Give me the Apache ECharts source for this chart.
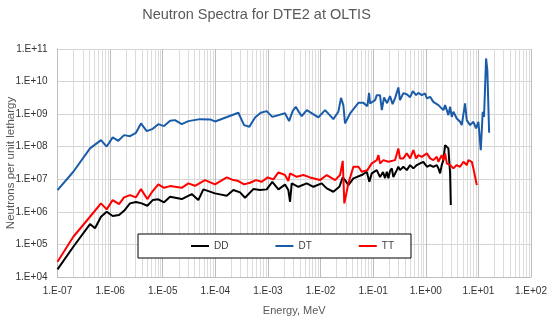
<!DOCTYPE html>
<html><head><meta charset="utf-8">
<script src="https://cdn.jsdelivr.net/npm/echarts@6/dist/echarts.min.js"></script>
<style>html,body{margin:0;padding:0;background:#fff}#c{width:550px;height:320px}</style>
</head><body><div id="c"></div>
<script>
// ---- data ----
const seriesNames = ['DD', 'DT', 'TT'];
const xTickLabels = ['1.E-07','1.E-06','1.E-05','1.E-04','1.E-03','1.E-02','1.E-01','1.E+00','1.E+01','1.E+02'];
const yTickLabels = ['1.E+04','1.E+05','1.E+06','1.E+07','1.E+08','1.E+09','1.E+10','1.E+11'];

const ddE = [1e-7, 2.0e-7, 4.15e-7, 5.16e-7, 6.71e-7, 8.61e-7, 1.12e-6, 1.48e-6, 1.84e-6, 2.39e-6, 3.10e-6, 3.99e-6, 5.09e-6, 6.46e-6, 8.24e-6, 1.06e-5, 1.38e-5, 2.30e-5, 3.56e-5, 4.75e-5, 5.92e-5, 9.86e-5, 1.65e-4, 2.20e-4, 2.95e-4, 3.67e-4, 5.27e-4, 7.08e-4, 9.48e-4, 1.21e-3, 1.58e-3, 2.11e-3, 2.44e-3, 2.63e-3, 2.83e-3, 3.78e-3, 5.47e-3, 7.30e-3, 1.05e-2, 1.31e-2, 1.75e-2, 2.28e-2, 2.64e-2, 2.92e-2, 3.38e-2, 4.21e-2, 6.07e-2, 7.55e-2, 8.47e-2, 9.40e-2, 1.17e-1, 1.35e-1, 1.46e-1, 1.54e-1, 1.68e-1, 1.82e-1, 1.95e-1, 2.09e-1, 2.26e-1, 2.42e-1, 2.61e-1, 2.81e-1, 3.01e-1, 3.24e-1, 3.75e-1, 4.35e-1, 5.04e-1, 5.81e-1, 6.75e-1, 7.80e-1, 9.00e-1, 1.05, 1.21, 1.39, 1.62, 1.74, 1.87, 2.01, 2.16, 2.33, 2.51, 2.69, 2.90, 2.99];
const ddV = [1.72e4, 8.5e4, 4.22e5, 3.12e5, 7.08e5, 1.01e6, 7.43e5, 7.98e5, 1.08e6, 1.82e6, 2.00e6, 1.82e6, 1.54e6, 2.30e6, 2.42e6, 1.96e6, 2.90e6, 2.47e6, 3.52e6, 2.30e6, 4.90e6, 3.69e6, 3.12e6, 4.67e6, 3.96e6, 2.71e6, 5.00e6, 4.67e6, 4.90e6, 8.38e6, 4.90e6, 6.88e6, 4.67e6, 2.04e6, 7.48e6, 5.89e6, 7.48e6, 5.89e6, 7.48e6, 5.26e6, 4.14e6, 5.89e6, 1.14e7, 9.45e6, 6.64e6, 1.07e7, 1.35e7, 1.70e7, 8.38e6, 1.52e7, 1.91e7, 1.17e7, 1.07e7, 1.66e7, 1.09e7, 1.70e7, 1.07e7, 1.79e7, 2.16e7, 1.17e7, 1.07e7, 1.91e7, 2.42e7, 1.91e7, 2.42e7, 1.91e7, 2.73e7, 2.16e7, 2.73e7, 3.07e7, 3.44e7, 2.42e7, 2.73e7, 2.42e7, 2.73e7, 2.16e7, 1.52e7, 2.73e7, 3.88e7, 1.12e8, 1.26e8, 8.87e7, 1.52e7, 1.62e6];

const dtE = [1e-7, 2.0e-7, 4.15e-7, 6.71e-7, 8.61e-7, 1.12e-6, 1.43e-6, 1.84e-6, 2.39e-6, 3.10e-6, 3.86e-6, 4.96e-6, 6.46e-6, 8.24e-6, 1.06e-5, 1.38e-5, 1.71e-5, 2.30e-5, 3.07e-5, 5.12e-5, 7.92e-5, 9.86e-5, 2.74e-4, 3.52e-4, 4.43e-4, 5.69e-4, 7.29e-4, 9.48e-4, 1.21e-3, 2.11e-3, 2.52e-3, 2.96e-3, 3.38e-3, 3.78e-3, 4.39e-3, 5.47e-3, 9.08e-3, 1.22e-2, 1.75e-2, 2.18e-2, 2.45e-2, 2.71e-2, 2.92e-2, 3.64e-2, 5.24e-2, 6.52e-2, 7.76e-2, 8.36e-2, 8.73e-2, 1.09e-1, 1.17e-1, 1.35e-1, 1.46e-1, 1.61e-1, 1.84e-1, 2.09e-1, 2.34e-1, 2.61e-1, 3.01e-1, 3.24e-1, 3.75e-1, 4.35e-1, 5.04e-1, 5.67e-1, 6.55e-1, 7.23e-1, 8.39e-1, 9.70e-1, 1.05, 1.21, 1.39, 1.50, 1.74, 1.87, 2.16, 2.33, 2.69, 2.90, 3.12, 3.35, 3.88, 4.49, 4.83, 5.58, 6.01, 6.95, 8.04, 9.04, 10.0, 11.1, 12.1, 12.8, 14.0, 14.8, 16.0];
const dtV = [4.67e6, 1.70e7, 8.87e7, 1.59e8, 1.01e8, 1.93e8, 1.52e8, 2.27e8, 2.11e8, 2.67e8, 5.19e8, 3.01e8, 3.54e8, 4.93e8, 4.29e8, 6.23e8, 6.55e8, 4.93e8, 6.10e8, 7.03e8, 6.88e8, 5.97e8, 1.10e9, 4.60e8, 4.08e8, 7.92e8, 1.10e9, 1.24e9, 8.26e8, 1.07e9, 6.10e8, 1.26e9, 1.68e9, 1.24e9, 8.69e8, 1.33e9, 7.92e8, 1.33e9, 7.03e8, 1.18e9, 3.16e9, 1.89e9, 5.19e8, 1.05e9, 2.22e9, 2.22e9, 1.76e9, 4.50e9, 2.13e9, 2.69e9, 3.83e9, 3.83e9, 1.33e9, 3.25e9, 2.17e9, 3.57e9, 2.03e9, 3.10e9, 6.59e9, 2.69e9, 4.41e9, 4.10e9, 3.32e9, 5.08e9, 3.83e9, 4.50e9, 3.83e9, 4.31e9, 3.03e9, 3.40e9, 2.38e9, 2.69e9, 1.89e9, 2.13e9, 1.33e9, 1.89e9, 9.31e8, 1.68e9, 8.26e8, 1.18e9, 7.38e8, 5.81e8, 4.60e8, 2.13e9, 6.55e8, 4.60e8, 5.81e8, 3.64e8, 5.81e8, 7.87e7, 1.18e9, 8.26e8, 5.12e10, 2.24e10, 2.67e8];

const ttE = [1e-7, 2.0e-7, 4.15e-7, 6.71e-7, 8.61e-7, 1.12e-6, 1.48e-6, 1.84e-6, 2.39e-6, 3.10e-6, 3.86e-6, 5.09e-6, 6.46e-6, 8.24e-6, 1.06e-5, 1.38e-5, 2.30e-5, 3.07e-5, 4.11e-5, 6.37e-5, 9.86e-5, 1.65e-4, 2.20e-4, 2.74e-4, 3.52e-4, 4.57e-4, 5.94e-4, 7.62e-4, 9.91e-4, 1.27e-3, 1.58e-3, 1.70e-3, 2.11e-3, 2.44e-3, 2.63e-3, 3.53e-3, 4.71e-3, 6.31e-3, 9.77e-3, 1.31e-2, 1.89e-2, 2.35e-2, 2.64e-2, 2.83e-2, 3.38e-2, 4.21e-2, 5.24e-2, 6.07e-2, 7.76e-2, 9.40e-2, 1.17e-1, 1.26e-1, 1.35e-1, 1.56e-1, 1.95e-1, 2.61e-1, 3.01e-1, 3.24e-1, 3.75e-1, 4.35e-1, 5.04e-1, 5.81e-1, 6.55e-1, 7.23e-1, 8.39e-1, 1.05, 1.21, 1.39, 1.62, 1.74, 2.01, 2.16, 2.33, 2.51, 2.90, 3.35, 3.88, 4.49, 5.19, 6.01, 6.46, 7.50, 8.04, 8.65, 9.33];
const ttV = [2.95e4, 1.72e5, 7.08e5, 1.82e6, 1.19e6, 2.30e6, 1.73e6, 2.79e6, 3.27e6, 2.79e6, 5.00e6, 2.47e6, 4.35e6, 6.98e6, 5.48e6, 6.18e6, 5.48e6, 7.48e6, 6.32e6, 9.45e6, 6.98e6, 1.14e7, 9.45e6, 8.81e6, 6.98e6, 7.81e6, 9.45e6, 8.38e6, 1.14e7, 9.93e6, 1.63e7, 1.70e7, 1.35e7, 8.81e6, 1.52e7, 1.19e7, 1.35e7, 1.14e7, 9.45e6, 1.35e7, 9.45e6, 1.35e7, 3.69e7, 1.82e6, 7.48e6, 2.42e7, 2.42e7, 1.70e7, 1.91e7, 3.07e7, 3.88e7, 5.52e7, 3.07e7, 3.88e7, 3.44e7, 3.88e7, 8.87e7, 4.38e7, 4.38e7, 6.23e7, 4.38e7, 7.87e7, 4.38e7, 5.52e7, 4.90e7, 6.23e7, 4.38e7, 3.88e7, 4.90e7, 3.44e7, 5.52e7, 3.88e7, 6.23e7, 3.07e7, 2.73e7, 2.16e7, 2.73e7, 2.42e7, 3.44e7, 2.73e7, 3.88e7, 3.44e7, 2.16e7, 1.91e7, 6.64e6];

// ---- build ----
const FONT = 'Liberation Sans, Arial, sans-serif';
function zip(a, b) { return a.map((v, i) => [v, b[i]]); }
function expOf(v) { return Math.round(Math.log10(v)); }
const Y_MIN = 1e4, Y_MAX = 1e11;

// minor vertical gridline positions at 2..9 x each decade
const minorX = [];
for (let d = -7; d <= 1; d++) {
  for (let k = 2; k <= 9; k++) minorX.push(Number((k * Math.pow(10, d)).toPrecision(3)));
}

const chart = echarts.init(document.getElementById('c'), null, { renderer: 'canvas' });
const colors = { DD: '#000000', DT: '#1B5CA8', TT: '#FF0000' };
const dataMap = { DD: zip(ddE, ddV), DT: zip(dtE, dtV), TT: zip(ttE, ttV) };

const series = [{
  name: 'minorGrid', type: 'custom', z: 1, silent: true, animation: false,
  data: minorX.map(v => [v, Y_MIN]),
  encode: { x: 0, y: 1 },
  renderItem: function (params, api) {
    const v = api.value(0);
    const p1 = api.coord([v, Y_MIN]);
    const p2 = api.coord([v, Y_MAX]);
    const x = Math.round(p1[0]) + 0.5;
    return { type: 'line', shape: { x1: x, y1: p1[1], x2: x, y2: p2[1] },
      style: { stroke: '#DCDCDC', lineWidth: 1 } };
  }
}].concat(seriesNames.map(n => ({
  name: n, type: 'line', data: dataMap[n], symbol: 'none', z: 3,
  lineStyle: { color: colors[n], width: 2 }, itemStyle: { color: colors[n] },
  silent: true, animation: false
})));

chart.setOption({
  animation: false,
  textStyle: { fontFamily: FONT },
  title: {
    text: 'Neutron Spectra for DTE2 at OLTIS', left: 256.5, top: 7, textAlign: 'center', padding: 0,
    textStyle: { fontSize: 14.5, fontWeight: 'normal', color: '#595959', fontFamily: FONT }
  },
  legend: {
    data: seriesNames, left: 138, top: 234, padding: [6, 17, 6, 53], itemGap: 47,
    icon: 'rect', itemWidth: 18, itemHeight: 2, backgroundColor: '#fff', borderColor: '#000', borderWidth: 1,
    selectedMode: false, textStyle: { fontSize: 10, color: '#404040', fontFamily: FONT, lineHeight: 12 }
  },
  grid: { left: 57.5, right: 19, top: 49, bottom: 43, containLabel: false, outerBoundsMode: 'none' },
  xAxis: {
    type: 'log', logBase: 10, min: 1e-7, max: 1e2,
    name: 'Energy, MeV', nameLocation: 'middle', nameGap: 28,
    nameTextStyle: { fontSize: 11, color: '#595959', fontFamily: FONT },
    axisLine: { show: true, lineStyle: { color: '#BFBFBF', width: 1 } },
    axisTick: { show: false },
    axisLabel: { fontSize: 10, color: '#333', margin: 9, fontFamily: FONT,
      formatter: v => xTickLabels[expOf(v) + 7] },
    splitLine: { show: true, lineStyle: { color: '#BDBDBD', width: 1 } }
  },
  yAxis: {
    type: 'log', logBase: 10, min: Y_MIN, max: Y_MAX,
    name: 'Neutrons per unit lethargy', nameLocation: 'middle', nameGap: 41, nameRotate: 90,
    nameMoveOverlap: false,
    nameTextStyle: { fontSize: 11.5, color: '#595959', fontFamily: FONT },
    axisLine: { show: true, lineStyle: { color: '#BFBFBF', width: 1 } },
    axisTick: { show: false },
    axisLabel: { fontSize: 10, color: '#333', margin: 10, fontFamily: FONT,
      formatter: v => yTickLabels[expOf(v) - 4] },
    splitLine: { show: true, lineStyle: { color: '#D4D4D4', width: 1 } }
  },
  series: series
});
</script></body></html>
